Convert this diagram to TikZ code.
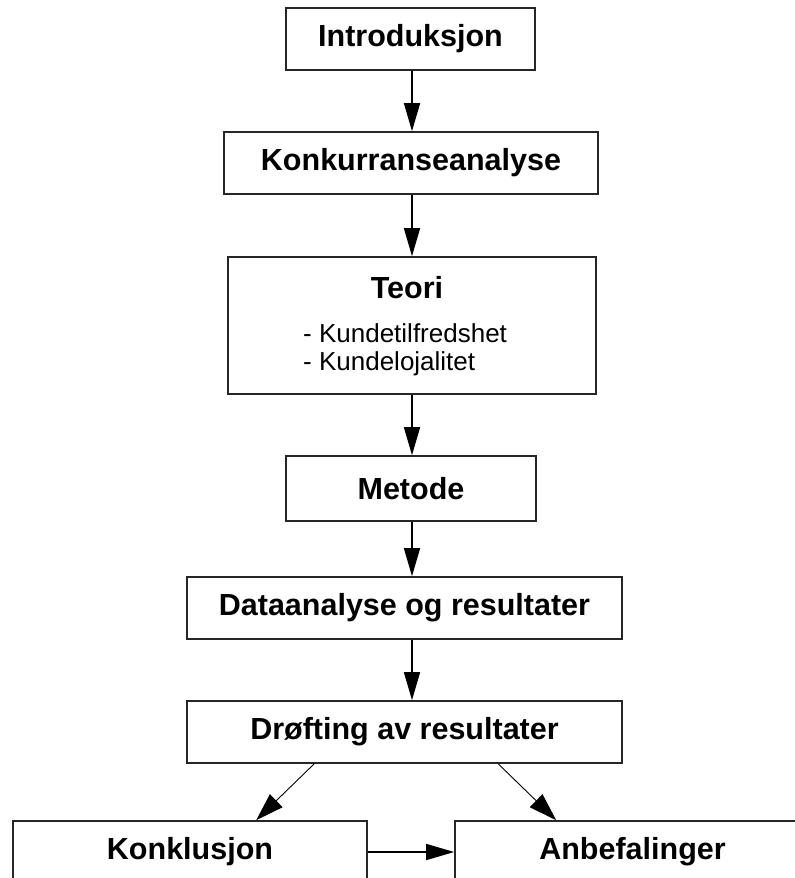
\documentclass[tikz,border=0pt]{standalone}
\usepackage{fontspec}
\setmainfont{Liberation Sans}
\usetikzlibrary{arrows.meta}
\begin{document}
\begin{tikzpicture}[x=1pt,y=-1pt,
  box/.style={draw=black!85, line width=1.6pt, fill=white, inner sep=0pt,
              font=\fontsize{30.5}{36}\selectfont\bfseries},
  flow/.style={line width=1.5pt, -{Triangle[length=28pt,width=16pt]}},
  slant/.style={line width=0.9pt, -{Triangle[length=28pt,width=18pt]}},
  item/.style={inner sep=0pt, anchor=base west, font=\fontsize{26}{28}\selectfont}
]
\useasboundingbox (0,0) rectangle (795,878);
\clip (0,0) rectangle (795,878);
\fill[white] (0,0) rectangle (795,878);

% vertical axis of the main chain
\coordinate (spine) at (412,0);

% boxes
\node[box, minimum width=249pt, minimum height=62pt] (intro) at (410.5,39) {Introduksjon};
\node[box, minimum width=374pt, minimum height=62pt] (konk) at (411,163) {Konkurranseanalyse};
\node[box, minimum width=368pt, minimum height=137pt] (teori) at (412,325.5) {};
\node[inner sep=0pt, anchor=base, font=\fontsize{30.5}{36}\selectfont\bfseries] (teoritit) at (407,298) {Teori};
\node[item] (k1) at (303,342) {- Kundetilfredshet};
\node[item] (k2) at (303,370) {- Kundelojalitet};
\node[box, minimum width=250pt, minimum height=65pt] (metode) at (411,488.5) {Metode};
\node[box, minimum width=435pt, minimum height=62pt] (data) at (404.5,608) {Dataanalyse og resultater};
\node[box, minimum width=435pt, minimum height=62pt] (drof) at (404.5,732) {Drøfting av resultater};
\node[box, minimum width=354pt, minimum height=62pt] (konkl) at (190,852) {Konklusjon};
\node[box, minimum width=355pt, minimum height=62pt] (anbef) at (632.5,852) {Anbefalinger};

% connectors
\draw[flow] (intro.south -| spine) -- (konk.north -| spine);
\draw[flow] (konk.south -| spine) -- (teori.north -| spine);
\draw[flow] (teori.south -| spine) -- (metode.north -| spine);
\draw[flow] (metode.south -| spine) -- (data.north -| spine);
\draw[flow] (data.south -| spine) -- (drof.north -| spine);
\draw[slant] ([xshift=128pt]drof.south west) -- ([xshift=244pt]konkl.north west);
\draw[slant] ([xshift=312pt]drof.south west) -- ([xshift=102pt]anbef.north west);
\draw[flow] (konkl.east) -- (anbef.west);
\end{tikzpicture}
\end{document}
